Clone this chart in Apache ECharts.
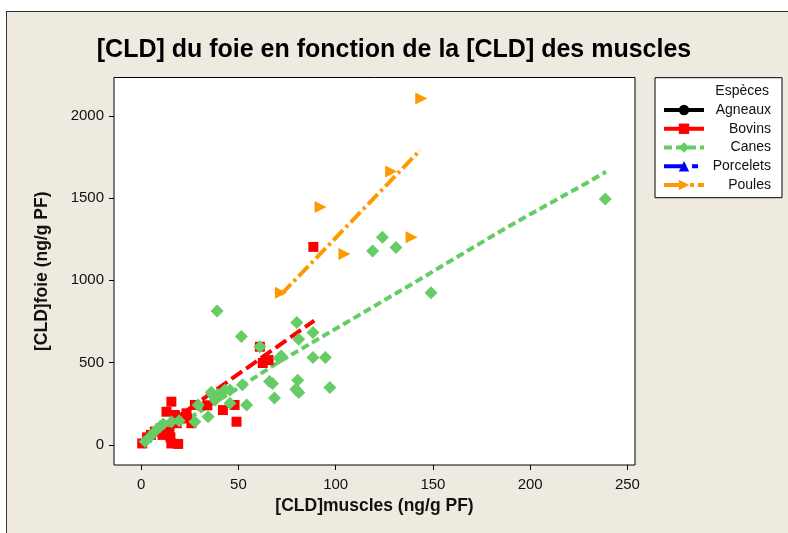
<!DOCTYPE html>
<html>
<head>
<meta charset="utf-8">
<script src="https://cdn.jsdelivr.net/npm/echarts@6/dist/echarts.min.js"></script>
<style>
  html, body { margin: 0; padding: 0; background: #ffffff; }
  #bg { position: absolute; left: 6px; top: 11px; width: 800px; height: 540px; background: #EEEAE0; border: 1px solid #333; }
  #chart { position: absolute; left: 0; top: 0; width: 788px; height: 533px; }
</style>
</head>
<body>
<div id="bg"></div>
<div id="chart"></div>
<script>
// ---- Data ----
const speciesNames = ['Agneaux', 'Bovins', 'Canes', 'Porcelets', 'Poules'];
const xTicks = [0, 50, 100, 150, 200, 250];
const yTicks = [0, 500, 1000, 1500, 2000];

const bovinsX = [0.5, 3, 5, 7, 10, 11, 13, 15.5, 14.5, 15, 15.5, 19, 17.3, 18.2, 23.3, 23.5, 25.8, 27.6, 34, 42, 48, 49, 61, 62.5, 65.5, 88.5];
const bovinsY = [8, 45, 60, 80, 100, 60, 201, 262, 80, 45, 8, 5, 181, 131, 191, 160, 131, 242, 240, 211, 242, 140, 596, 497, 515, 1203];

const canesX = [2, 4.5, 7, 9.6, 11.3, 15.6, 19.5, 27.6, 29.3, 34.4, 36, 37, 38, 39.5, 43, 45.6, 45.6, 52, 54.2, 39, 51.5, 61, 66, 67.5, 68.5, 71, 72, 79.5, 80.5, 81, 80, 81, 88.3, 88.3, 94.7, 97, 119, 124, 131, 149, 238.6];
const canesY = [20, 49, 80, 110, 126, 140, 146, 140, 242, 171, 320, 300, 272, 305, 333, 252, 333, 365, 242, 813, 658, 596, 385, 373, 285, 526, 540, 338, 392, 318, 743, 641, 683, 530, 530, 348, 1178, 1262, 1200, 925, 1494];

const poulesX = [71.8, 92.2, 104.5, 128.5, 139, 144];
const poulesY = [924, 1446, 1160, 1662, 1261, 2106];

const agneauxX = [];
const agneauxY = [];
const porceletsX = [];
const porceletsY = [];

// fitted curves
const bovinsFitX = [1, 89];
const bovinsFitY = [22, 755];
const canesFitX = [3, 25, 50, 71, 100, 141, 170, 190, 215, 230, 239];
const canesFitY = [25, 165, 345, 505, 705, 990, 1195, 1335, 1500, 1598, 1660];
const poulesFitX = [72, 143.5];
const poulesFitY = [915, 1792];

function pairs(xs, ys) { return xs.map((x, i) => [x, ys[i]]); }

// ---- Styles ----
const FONT = 'Liberation Sans, Arial, sans-serif';
const styles = {
  Agneaux:   { color: '#000000', symbol: 'circle',   size: 10, fitDash: 'solid',        legDash: 'solid',        pts: pairs(agneauxX, agneauxY),  fit: [] },
  Bovins:    { color: '#FF0000', symbol: 'rect',     size: 10, fitDash: [13, 5],        legDash: 'solid',        pts: pairs(bovinsX, bovinsY),    fit: pairs(bovinsFitX, bovinsFitY) },
  Canes:     { color: '#66CC66', symbol: 'diamond',  size: 13, fitDash: [8, 4],         legDash: [8, 4],         pts: pairs(canesX, canesY),      fit: pairs(canesFitX, canesFitY) },
  Porcelets: { color: '#0000FF', symbol: 'triangle', size: 11, fitDash: [18, 6, 6, 6],  legDash: [22, 6, 6, 6],  pts: pairs(porceletsX, porceletsY), fit: [] },
  Poules:    { color: '#FF9900', symbol: 'path://M0,0L10,5L0,10Z', size: 12, fitDash: [14, 4, 3, 4], legDash: [22, 4, 4, 4], pts: pairs(poulesX, poulesY), fit: pairs(poulesFitX, poulesFitY) }
};

const series = [];
speciesNames.forEach(name => {
  const s = styles[name];
  series.push({
    type: 'line', name: name, data: s.fit, symbol: s.symbol, showSymbol: false,
    lineStyle: { color: s.color, width: 4, type: s.fitDash },
    itemStyle: { color: s.color }, z: 2, silent: true, animation: false
  });
});
speciesNames.forEach(name => {
  const s = styles[name];
  series.push({
    type: 'scatter', name: name, data: s.pts, symbol: s.symbol, symbolSize: s.size,
    itemStyle: { color: s.color, opacity: 1 }, z: 3, animation: false
  });
});

const chart = echarts.init(document.getElementById('chart'), null, { renderer: 'canvas' });
chart.setOption({
  backgroundColor: 'transparent',
  animation: false,
  textStyle: { fontFamily: FONT },
  title: {
    text: '[CLD] du foie en fonction de la [CLD] des muscles',
    left: 'center', top: 32.5, padding: [5, 5, 5, 21],
    textStyle: { fontFamily: FONT, fontWeight: 'bold', fontSize: 25, color: '#000' }
  },
  grid: { left: 114, top: 77.5, width: 521, height: 387.5, show: true, backgroundColor: '#ffffff', borderColor: '#000', borderWidth: 1, containLabel: false },
  xAxis: {
    type: 'value', min: -14, max: 253.9,
    name: '[CLD]muscles (ng/g PF)', nameLocation: 'middle', nameGap: 32,
    nameTextStyle: { fontFamily: FONT, fontWeight: 'bold', fontSize: 17.5, color: '#111' },
    axisLine: { show: false, onZero: false },
    axisTick: { show: true, customValues: xTicks, length: 5, lineStyle: { color: '#000' } },
    axisLabel: { customValues: xTicks, fontSize: 15, color: '#111', margin: 12, fontFamily: FONT, formatter: v => String(v) },
    splitLine: { show: false }
  },
  yAxis: {
    type: 'value', min: -123, max: 2233,
    name: '[CLD]foie (ng/g PF)', nameLocation: 'middle', nameGap: 63,
    nameTextStyle: { fontFamily: FONT, fontWeight: 'bold', fontSize: 17.5, color: '#111' },
    axisLine: { show: false, onZero: false },
    axisTick: { show: true, customValues: yTicks, length: 5, lineStyle: { color: '#000' } },
    axisLabel: { customValues: yTicks, fontSize: 15, color: '#111', margin: 10, fontFamily: FONT, formatter: v => String(v) },
    splitLine: { show: false }
  },
  legend: {
    orient: 'vertical', left: 655, top: 77.7,
    padding: [25.3, 11, 5.7, 7],
    itemWidth: 40, itemHeight: 13, itemGap: 4.75,
    backgroundColor: '#ffffff', borderColor: '#000', borderWidth: 1,
    selectedMode: false,
    data: speciesNames.map(n => ({ name: n, lineStyle: { width: 4, type: styles[n].legDash } })),
    formatter: n => '{r|' + n + '}',
    textStyle: { fontFamily: FONT, fontSize: 14, color: '#111', width: 62,
      rich: { r: { width: 62, align: 'right', fontSize: 14, fontFamily: FONT, color: '#111' } } }
  },
  graphic: [{
    type: 'text', right: 19, top: 84.5, z: 100,
    style: { text: 'Espèces', fontSize: 14, fontFamily: FONT, fill: '#111' }
  }],
  series: series
});
</script>
</body>
</html>
